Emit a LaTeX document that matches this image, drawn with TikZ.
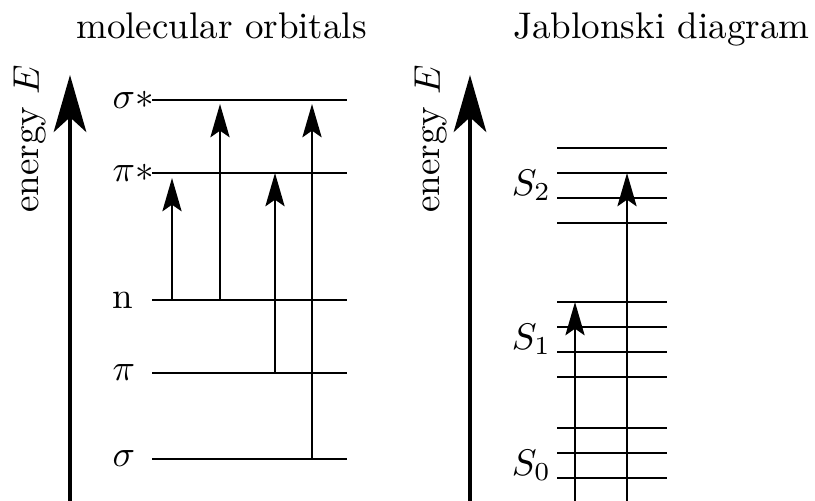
\documentclass[tikz,border=0pt]{standalone}
\usetikzlibrary{arrows.meta}
\begin{document}
\begin{tikzpicture}[x=0.27pt,y=-0.27pt,
  axisarrow/.style={line width=1.05pt,-{Stealth[length=15.4pt,width=8.8pt,inset=4pt]}},
  trans/.style={line width=0.45pt,-{Stealth[length=9pt,width=5.2pt,inset=1.8pt]}},
  level/.style={line width=0.45pt},
  lbl/.style={anchor=west,inner sep=0pt},
  ttl/.style={anchor=base,inner sep=0pt},
  elbl/.style={rotate=90,inner sep=0pt}]
\useasboundingbox (0,0) rectangle (815,500);
\clip (0,0) rectangle (815,500);
% ---------- molecular orbitals ----------
\node[ttl] (t1) at (221.5,38) {molecular orbitals};
\coordinate (ax1b) at (70,510);
\coordinate (ax1t) at (70,75);
\draw[axisarrow] (ax1b) -- (ax1t);
\node[elbl] (e1) at (30,139) {energy $E$};
\foreach \y/\n in {100/ss,173/ps,300/nn,373/pp,459/sg}
  \draw[level] (152,\y) coordinate (\n L) -- (347,\y) coordinate (\n R);
\node[lbl] (lss) at (112,100) {$\sigma*$};
\node[lbl] (lps) at (112,173) {$\pi*$};
\node[lbl] (lnn) at (112,300) {n};
\node[lbl] (lpp) at (112,373) {$\pi$};
\node[lbl] (lsg) at (112,459) {$\sigma$};
\draw[trans] (172,300) -- (172,178);
\draw[trans] (220,300) -- (220,104);
\draw[trans] (275,373) -- (275,173);
\draw[trans] (312,459) -- (312,104);
% ---------- Jablonski ----------
\node[ttl] (t2) at (661.5,38) {Jablonski diagram};
\coordinate (ax2b) at (470,510);
\coordinate (ax2t) at (470,75);
\draw[axisarrow] (ax2b) -- (ax2t);
\node[elbl] (e2) at (431,139) {energy $E$};
\foreach \y in {148,173,198,223,302,327,352,377,428,453,478,503}
  \draw[level] (557,\y) -- (667,\y);
\node[lbl] (s2) at (511,185.5) {$S_2$};
\node[lbl] (s1) at (511,339.5) {$S_1$};
\node[lbl] (s0) at (511,465.5) {$S_0$};
\draw[trans] (575,510) -- (575,302);
\draw[trans] (627,510) -- (627,173);
\end{tikzpicture}
\end{document}
